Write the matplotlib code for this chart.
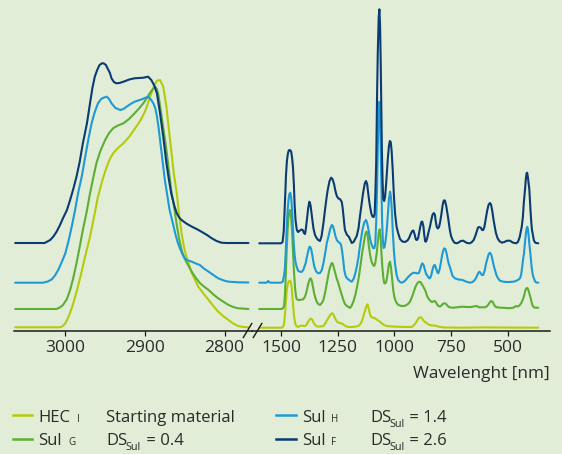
import matplotlib
matplotlib.use("Agg")
import matplotlib.pyplot as plt
from matplotlib.lines import Line2D

plt.rcParams['font.family'] = ['Open Sans', 'DejaVu Sans']

# ---------------- data (wavenumber, intensity incl. stacking offset) ----------------
# C-H stretching region (left panel)
hec_ch_wn = [3063, 3007, 3003, 3000, 2995, 2990, 2985, 2980, 2975, 2969, 2964, 2959, 2953, 2948, 2944,
             2940, 2934, 2927, 2920, 2913, 2906, 2900, 2896, 2892, 2888, 2885,
             2881, 2877, 2873, 2870, 2867, 2864, 2860, 2857, 2854, 2851, 2848, 2844, 2841, 2833, 2826,
             2820, 2814, 2808, 2801, 2795, 2789, 2783, 2776, 2770]
hec_ch_int = [3.7, 3.7, 5, 7.7, 16, 27.7, 42, 57.7, 75, 94.3, 114, 134.3, 152, 164.3, 172,
              177.7, 183, 187.7, 194, 202, 210, 219.3, 228, 237.7, 246, 250.3,
              251, 244.3, 224.3, 202, 181, 159, 137.7, 116, 97.7, 84, 74.3, 65, 57.7, 44.3, 37,
              31, 25, 19.3, 14.5, 11, 7.5, 5, 4, 3.7]

sulG_ch_wn = [3063, 3011, 3007, 3003, 2998, 2994, 2990, 2986, 2982, 2978, 2973, 2969, 2965, 2961, 2956,
              2950, 2945, 2940, 2934, 2927, 2920, 2913, 2908, 2902, 2898, 2894,
              2890, 2887, 2885, 2883, 2879, 2876, 2873, 2870, 2867, 2863, 2860, 2857, 2854, 2851, 2848,
              2841, 2836, 2831, 2826, 2820, 2814, 2808, 2801, 2795, 2789, 2783, 2770]
sulG_ch_int = [22, 22, 23.5, 26, 32, 41, 53, 67.7, 84, 101, 120, 137.7, 153, 167.7, 180,
               191, 198, 202.7, 205.5, 207.7, 212, 217.7, 222, 227.7, 232.5, 237.7,
               242, 244, 242, 236, 214.3, 198, 181, 161, 141, 122, 106, 92, 81, 74, 69,
               59, 53, 48, 44.5, 41, 36.5, 32.7, 29, 26, 24, 22.7, 22]

sulH_ch_wn = [3063, 3028, 3022, 3017, 3013, 3009, 3005, 3000, 2996, 2992, 2988, 2984, 2979, 2975, 2971,
              2967, 2963, 2959, 2955, 2952, 2948, 2945, 2942, 2937, 2931,
              2927, 2923, 2918, 2913, 2904, 2896, 2892, 2889, 2887, 2885, 2883, 2879, 2875, 2869, 2865, 2862,
              2859, 2856, 2853, 2850, 2846, 2841, 2836, 2831, 2826, 2820, 2814, 2808, 2801, 2795, 2783, 2770]
sulH_ch_int = [48.3, 48.3, 49.5, 51.7, 55.5, 61, 68, 77.7, 90, 104.3, 120, 137.7, 156, 174.3, 192,
               207.7, 219, 227.7, 232, 233.3, 234.3, 232, 227.7, 223, 221,
               222, 224.3, 227, 229.3, 231.7, 234.3, 231, 227, 222.7, 215, 204.3, 177.7, 151, 121, 108, 97.7,
               89, 82.7, 77, 72.7, 70.5, 69.3, 67.5, 66, 62.5, 59.3, 56, 52.7, 50.5, 49.3, 48.7, 48.5]

sulF_ch_wn = [3063, 3026, 3019, 3015, 3011, 3007, 3003, 2998, 2994, 2990, 2986, 2982, 2978, 2973, 2969,
              2966, 2963, 2960, 2957, 2954, 2952, 2949, 2947, 2944, 2942,
              2939, 2936, 2932, 2927, 2919, 2913, 2902, 2896, 2892, 2888, 2885, 2881, 2877, 2873, 2870, 2867,
              2863, 2860, 2857, 2854, 2848, 2841, 2835, 2829, 2822, 2816, 2810, 2804, 2798, 2770]
sulF_ch_int = [88, 88, 91, 94.5, 99.3, 105.5, 112.7, 121, 131, 142, 154.3, 169, 187.7, 207, 227.7,
               243, 254.3, 261, 266, 267.7, 267.7, 266, 262.7, 258, 252.7,
               249, 247.7, 248, 249.3, 251.7, 252.7, 253.3, 254.3, 251, 245, 237.7, 217.7, 194.3, 167.7, 152, 137.7,
               125, 117.7, 113.5, 111, 107.5, 104.3, 102, 99.3, 96, 92.7, 90, 88.3, 88, 88]

# Fingerprint region (right panel)
hec_fp_wn = [1596, 1497, 1490, 1486, 1482, 1478, 1474, 1469, 1465, 1461, 1457, 1453, 1450, 1446, 1443,
             1438, 1433, 1427, 1420, 1414, 1409, 1402, 1394, 1388, 1381, 1374, 1368, 1363, 1358, 1350,
             1343, 1330, 1313, 1305, 1298, 1291, 1283, 1276, 1270, 1262, 1255, 1247, 1238, 1230, 1225,
             1215, 1203, 1190, 1175, 1159, 1150, 1143, 1137, 1130, 1124, 1118, 1113, 1107, 1103, 1097,
             1091, 1085, 1078, 1070, 1063, 1055, 1045, 1034, 1010, 980, 950, 924, 915, 909, 902, 895,
             889, 883, 876, 870, 865, 858, 850, 843, 835, 828, 821, 812, 807, 790, 777, 700, 600, 500, 365]
hec_fp_int = [3.3, 3.3, 4.5, 8, 18, 31, 42, 48, 50, 50.3, 49, 44, 35, 24, 16,
              8, 5, 4.2, 4.5, 5.2, 5.5, 5.2, 5, 6, 9, 11.5, 12.5, 11.5, 9, 6,
              4.7, 4.3, 5, 7.5, 10.5, 13, 16, 17.7, 17, 13, 10, 8.3, 8, 7.3, 6.5,
              5, 4, 4, 4.3, 5, 7, 10, 14.3, 20, 24.5, 26.7, 22, 16.5, 14.3, 13.5,
              13, 12.7, 11.5, 10.3, 9.3, 7.5, 6, 5, 4.5, 4.2, 4, 4, 5.5, 7, 9.5, 12,
              13.5, 13.7, 12, 10, 9, 8, 6.5, 6, 5.5, 5.5, 5.5, 4.8, 4.5, 3.8, 3.5, 3.3, 3.6, 3.4, 3.3]

sulG_fp_wn = [1596, 1497, 1490, 1486, 1483, 1479, 1475, 1471, 1467, 1463, 1461, 1458, 1455, 1451, 1447,
              1443, 1438, 1434, 1431, 1424, 1416, 1409, 1402, 1395, 1389, 1384, 1379, 1373, 1369, 1364,
              1359, 1354, 1350, 1343, 1336, 1328, 1320, 1313, 1306, 1300, 1294, 1288, 1282, 1276, 1272,
              1268, 1262, 1255, 1247, 1240, 1232, 1225, 1218, 1210, 1203, 1196, 1189, 1181, 1172, 1163,
              1156, 1150, 1142, 1135, 1129, 1125, 1122, 1118, 1113, 1107, 1100, 1094, 1089, 1084, 1078,
              1073, 1069, 1065, 1061, 1057, 1053, 1049, 1045, 1041, 1036, 1032, 1029, 1024, 1019, 1015,
              1011, 1005, 1000, 995, 990, 982, 975, 968, 960, 950, 940, 931, 924, 916, 909, 902, 896,
              890, 885, 879, 873, 867, 861, 856, 850, 843, 835, 828, 821, 815, 810, 806, 800, 794, 789,
              783, 777, 772, 766, 760, 752, 740, 720, 700, 680, 660, 650, 640, 633, 625, 610, 600, 593,
              585, 578, 572, 566, 561, 555, 548, 530, 510, 490, 475, 463, 455, 448, 440, 434, 428, 424,
              420, 416, 412, 408, 404, 400, 396, 392, 388, 380, 365]
sulG_fp_int = [22, 22, 23, 26, 35, 55, 80, 100, 114, 120, 121, 119, 112, 98, 80,
               60, 43, 35, 32, 31, 31, 31.5, 31.7, 34, 38, 43, 48, 52, 52.7, 50,
               44, 38, 34.3, 29.5, 27, 26, 28, 31, 37.7, 45, 52, 60, 65, 68, 67.5,
               64, 59, 53, 47.7, 42, 36, 31, 27, 25, 24.3, 23, 25, 29.3, 36, 46,
               55, 65, 78, 88, 96, 99, 99.3, 96, 86, 76, 69, 66, 65, 68, 77.7,
               89, 98, 101.7, 95, 78, 64, 54, 48, 47.5, 49, 54, 59, 67, 69.3, 64,
               55, 41, 34, 30.5, 28, 26, 25.5, 25, 25, 25.5, 27, 29.3, 33, 38, 43, 46.5, 48.5,
               49.3, 49, 47, 44.5, 42, 39, 35, 32.7, 30.5, 29, 29.5, 30, 28, 26, 25, 24.5, 25, 26.5,
               27.5, 27.7, 27, 25.5, 24, 23.5, 23.3, 23.8, 24.3, 24, 24, 24.5, 25, 24.5, 23.7, 23.7, 23.7, 24.5,
               26.5, 29, 30, 29, 26.5, 24.5, 23.7, 23.3, 23, 22.8, 23.3, 25, 24.5, 25.5, 28, 31, 35, 39,
               42, 43, 42.7, 40.5, 37, 34, 30, 26.5, 24.5, 23.3, 23.3]

sulH_fp_wn = [1596, 1565, 1560, 1557, 1553, 1545, 1500, 1492, 1487, 1483, 1479, 1475, 1471, 1467, 1463,
              1459, 1455, 1451, 1448, 1444, 1440, 1436, 1431, 1424, 1416, 1409, 1402, 1396, 1391, 1387,
              1380, 1375, 1372, 1367, 1362, 1357, 1353, 1345, 1336, 1328, 1320, 1313, 1305, 1298, 1291,
              1283, 1276, 1271, 1266, 1260, 1254, 1247, 1240, 1235, 1230, 1225, 1221, 1215, 1208, 1200,
              1194, 1188, 1180, 1173, 1166, 1159, 1150, 1140, 1132, 1125, 1120, 1114, 1107, 1100, 1093,
              1088, 1084, 1080, 1076, 1073, 1070, 1066, 1063, 1060, 1057, 1054, 1051, 1047, 1043, 1039,
              1034, 1029, 1024, 1019, 1015, 1011, 1007, 1002, 997, 990, 983, 975, 968, 960, 950, 939,
              928, 916, 905, 898, 892, 887, 882, 877, 871, 865, 860, 855, 848, 843, 838, 832, 826, 821,
              815, 810, 806, 800, 795, 790, 785, 780, 775, 770, 765, 760, 755, 750, 743, 733, 718, 699,
              685, 666, 655, 645, 637, 630, 625, 620, 614, 608, 602, 596, 590, 584, 578, 572, 566, 560,
              556, 550, 542, 534, 520, 505, 490, 470, 455, 446, 441, 436, 432, 428, 424, 420, 417, 414,
              411, 408, 405, 402, 398, 394, 390, 387, 380, 375, 365]
sulH_fp_int = [48.3, 48.3, 49, 50, 49, 48.3, 48.3, 49.5, 55, 62, 80, 102, 120, 131, 137,
               138.3, 133, 120, 106, 88, 76, 69, 64.3, 60, 59.3, 59, 61, 65, 68, 72.7,
               80, 84, 84.3, 82, 76, 69, 64.3, 59.5, 57.7, 58, 61, 67.7, 78, 88, 94.3,
               102, 106, 105, 101, 95, 91, 89, 88, 86, 79, 70, 61, 55, 52.5, 51,
               50, 49.3, 52, 57, 64, 72.7, 88, 102, 109, 111, 108, 101, 92, 86, 82.7,
               83, 87, 110, 145, 185, 215, 229.3, 215, 180, 140, 110, 91, 83, 84, 90,
               100, 115, 132, 139.3, 134, 120, 100, 80, 67, 56, 51, 49, 48.3, 49, 51, 54,
               56.5, 58.3, 58, 57.5, 58, 61, 65, 67.7, 66, 61, 57, 55.5, 53, 52.7, 55, 61, 65.5, 66,
               62, 58.5, 57.7, 62, 68, 75, 80, 82.7, 82, 78, 72, 67, 64, 60, 55, 52.7, 51.5, 51,
               49.5, 48.3, 49, 51, 54.3, 58, 59.3, 58, 56, 56, 60, 67, 72, 77, 78.3, 76, 70, 64,
               61, 56, 52.5, 50.3, 49.3, 49, 49, 49.5, 51, 52.7, 56, 64, 72, 77.7, 88, 97, 102, 104.3,
               102, 96, 88, 82, 72, 63, 57, 54.3, 50, 48.6, 48.3]

sulF_fp_wn = [1596, 1500, 1493, 1488, 1485, 1481, 1478, 1474, 1470, 1466, 1462, 1458, 1455, 1451, 1447,
              1443, 1440, 1436, 1431, 1427, 1424, 1420, 1416, 1410, 1404, 1399, 1394, 1390, 1385, 1380,
              1375, 1370, 1366, 1361, 1357, 1350, 1343, 1336, 1328, 1321, 1313, 1305, 1298, 1294, 1286,
              1279, 1273, 1266, 1260, 1254, 1247, 1240, 1232, 1228, 1225, 1221, 1218, 1210, 1200, 1194,
              1188, 1180, 1166, 1158, 1152, 1145, 1138, 1130, 1125, 1120, 1116, 1111, 1107, 1101, 1096,
              1091, 1087, 1084, 1080, 1076, 1073, 1069, 1066, 1063, 1060, 1057, 1055, 1052, 1049, 1045,
              1041, 1036, 1032, 1029, 1024, 1020, 1016, 1012, 1007, 1002, 997, 990, 983, 975, 965, 953,
              942, 935, 928, 921, 916, 911, 905, 900, 895, 891, 886, 881, 877, 872, 868, 864, 860, 855,
              849, 843, 838, 832, 826, 821, 817, 813, 808, 803, 798, 792, 787, 782, 777, 771, 766, 762,
              756, 750, 743, 735, 725, 718, 707, 696, 687, 679, 669, 660, 650, 643, 637, 631, 625, 618,
              613, 608, 603, 597, 590, 584, 578, 573, 568, 563, 557, 552, 545, 537, 526, 515, 503, 490,
              478, 470, 463, 455, 447, 442, 438, 433, 429, 426, 423, 420, 417, 414, 411, 408, 405, 402,
              399, 396, 393, 390, 385, 380, 375, 365]
sulF_fp_int = [87.7, 87.7, 89, 100, 116, 138, 156, 170, 177, 180.5, 181, 180.5, 179, 173, 163,
               145, 126, 111, 102, 99.5, 99, 100, 100.5, 101.5, 101, 98, 97, 103, 113, 123,
               129.3, 126, 119, 110, 102.7, 96, 93, 91, 90, 95, 107.7, 123, 135, 141, 150,
               153.3, 152, 147, 140, 135, 132.5, 132, 129, 123, 116, 107, 101, 96.5, 94, 91,
               88, 89, 95, 103, 114.3, 126, 138, 148, 150, 147, 139, 130, 124, 117, 114.3,
               114, 117, 135, 170, 240, 280, 314, 321.7, 305, 265, 215, 181, 150, 132, 130,
               134, 148, 162, 172, 185, 190, 189, 180, 160, 135, 117.7, 104, 97.7, 92, 89.5, 89,
               90.5, 93, 97, 100, 100.5, 97, 91.5, 91, 93, 98, 104, 109, 109.5, 105, 96, 89.5, 89.5, 93,
               99, 104.3, 110, 116, 118, 116, 109, 104, 102.5, 104, 109, 117.7, 126, 130.5, 130.5, 125, 118, 112,
               102, 95, 91, 88.3, 87.7, 88.3, 90, 90.3, 89, 88, 87.7, 88.5, 91, 95, 99.3, 103.5, 104, 103,
               101, 101, 104, 112, 121, 126.5, 128, 126, 120, 112, 104, 98, 93, 90, 88.3, 89, 90.3, 90.3,
               88.5, 88, 87.7, 89, 94, 100, 104.3, 114, 128, 135, 143, 152, 157.5, 158.3, 154, 148, 143, 131,
               119, 109, 101, 97.7, 91, 88.7, 88, 87.7]

ticks_ch = [3000, 2900, 2800]
ticks_fp = [1500, 1250, 1000, 750, 500]

series_names = ["HEC", "Sul", "Sul", "Sul"]
series_marks = ["I", "G", "H", "F"]
series_desc = [("Starting material", "", ""), ("DS", "Sul", " = 0.4"),
               ("DS", "Sul", " = 1.4"), ("DS", "Sul", " = 2.6")]
colors = ["#b4cb0c", "#5cae34", "#1d9ad6", "#0a3b72"]

# ---------------- figure ----------------
BG = "#e2edd7"
TXT = "#2a2a2a"
W, H = 562, 454
fig = plt.figure(figsize=(W / 100, H / 100), dpi=100, facecolor=BG)

def fx(x):
    return x / W

def fy(y):
    return 1 - y / H

axis_y = 331
axL = fig.add_axes([fx(13.6), fy(axis_y), fx(252) - fx(13.6), axis_y / H])
axR = fig.add_axes([fx(252), fy(axis_y), fx(550) - fx(252), axis_y / H])

ch_data = [(hec_ch_wn, hec_ch_int), (sulG_ch_wn, sulG_ch_int), (sulH_ch_wn, sulH_ch_int), (sulF_ch_wn, sulF_ch_int)]
fp_data = [(hec_fp_wn, hec_fp_int), (sulG_fp_wn, sulG_fp_int), (sulH_fp_wn, sulH_fp_int), (sulF_fp_wn, sulF_fp_int)]

for (wn, it), c in zip(ch_data, colors):
    axL.plot(wn, it, color=c, lw=1.5, solid_joinstyle='round', solid_capstyle='round')
for (wn, it), c in zip(fp_data, colors):
    axR.plot(wn, it, color=c, lw=1.5, solid_joinstyle='round', solid_capstyle='round')

axL.set_xlim(3065, 2765.5)
axR.set_xlim(1628, 313.4)
axL.set_xticks(ticks_ch)
axR.set_xticks(ticks_fp)

for ax in (axL, axR):
    ax.set_facecolor("none")
    ax.set_ylim(0, axis_y)
    ax.set_yticks([])
    for s in ("top", "left", "right"):
        ax.spines[s].set_visible(False)
    ax.spines["bottom"].set_linewidth(1.1)
    ax.spines["bottom"].set_color("#1a1a1a")
    ax.tick_params(axis="x", direction="out", length=3.3, width=0.9, color="#1a1a1a",
                   labelsize=12.5, labelcolor=TXT, pad=3.5)

# axis break marks
for x0 in (243.3, 253.3):
    fig.add_artist(Line2D([fx(x0), fx(x0 + 8.5)], [fy(337.5), fy(323.5)],
                          transform=fig.transFigure, color="#1a1a1a", lw=1.0))

fig.text(fx(550), fy(378.5), "Wavelenght [nm]", ha="right", va="baseline",
         fontsize=12.3, color=TXT)

# legend
FS = 12
renderer = fig.canvas.get_renderer()
rows_base = [421.7, 445.3, 421.7, 445.3]
line_x = [(12.7, 31.7), (12.7, 31.7), (276, 296), (276, 296)]
name_x = [38.4, 38.4, 302, 302]
mark_x = [77.0, 68.3, 331.5, 331.5]
desc_x = [106.2, 106.2, 370, 370]
for i in range(4):
    yb = rows_base[i]
    fig.add_artist(Line2D([fx(line_x[i][0]), fx(line_x[i][1])], [fy(yb - 6.8), fy(yb - 6.8)],
                          transform=fig.transFigure, color=colors[i], lw=1.8))
    fig.text(fx(name_x[i]), fy(yb), series_names[i], ha="left", va="baseline", fontsize=FS, color=TXT)
    fig.text(fx(mark_x[i]), fy(yb), series_marks[i], ha="left", va="baseline", fontsize=7, color=TXT)
    main, sub, rest = series_desc[i]
    t1 = fig.text(fx(desc_x[i]), fy(yb), main, ha="left", va="baseline", fontsize=FS, color=TXT)
    if sub:
        bb = t1.get_window_extent(renderer)
        t2 = fig.text((bb.x1 - 1.5) / W, fy(yb + 5.2), sub, ha="left", va="baseline",
                      fontsize=7.8, color=TXT)
        bb2 = t2.get_window_extent(renderer)
        fig.text((bb2.x1 + 0.5) / W, fy(yb), rest, ha="left", va="baseline", fontsize=FS, color=TXT)

fig.savefig("out.png", dpi=100, facecolor=BG)
